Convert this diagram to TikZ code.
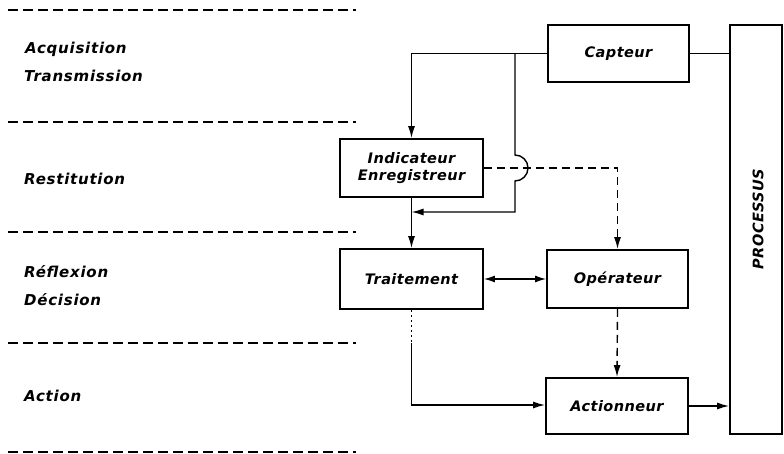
\documentclass[tikz,border=0pt]{standalone}
\usepackage{fontspec}
\setmainfont{DejaVu Sans}
\newfontfamily\boxfont{DejaVu Sans}[LetterSpace=3]
\newfontfamily\labfont{DejaVu Sans}[LetterSpace=5]
\usetikzlibrary{arrows.meta}
\begin{document}
\begin{tikzpicture}[x=1pt,y=-1pt,
  blk/.style={draw,line width=1.8pt,minimum width=#1,inner sep=0pt,font=\boxfont\fontsize{14.5}{16.5}\selectfont\bfseries\itshape,align=center},
  lab/.style={anchor=west,inner sep=0pt,font=\labfont\fontsize{15}{17}\selectfont\bfseries\itshape},
  sep/.style={line width=1.3pt,dash pattern=on 10pt off 5pt},
  con/.style={line width=1.4pt},
  dcon/.style={line width=1.4pt,dash pattern=on 8pt off 5pt},
  arr/.style={-{Latex[length=12pt,width=7pt]}}]
\useasboundingbox (0,0) rectangle (784,454);
\fill[white] (0,0) rectangle (784,454);
% separators
\foreach \yy/\nm in {10/s1,122/s2,232/s3,343/s4,452/s5}{
  \coordinate (\nm a) at (8,\yy); \coordinate (\nm b) at (356,\yy);
  \draw[sep] (\nm a) -- (\nm b);}
% left labels
\node[lab] (l1) at (25,49) {Acquisition};
\node[lab] (l2) at (24,76) {Transmission};
\node[lab] (l3) at (24,179) {Restitution};
\node[lab] (l4) at (24,272) {Réflexion};
\node[lab] (l5) at (24,300) {Décision};
\node[lab] (l6) at (24,396) {Action};
% blocks
\node[blk=141pt,minimum height=57pt] (capt) at (618.5,53.5) {Capteur};
\node[blk=143pt,minimum height=58pt] (ind) at (411.5,168) {Indicateur\\[0pt]Enregistreur};
\node[blk=143pt,minimum height=60pt] (trt) at (411.5,279) {Traitement};
\node[blk=141pt,minimum height=58pt] (op) at (617.5,279) {Opérateur};
\node[blk=142pt,minimum height=56pt] (act) at (617,406) {Actionneur};
\node[blk=52pt,minimum height=409pt] (proc) at (756,229.5) {};
\node[rotate=90,font=\boxfont\fontsize{14.5}{16.5}\selectfont\bfseries\itshape,inner sep=0pt] (proct) at (758,219) {PROCESSUS};
% connectors
\draw[con] (capt.east) -- (capt.east -| proc.west);
\draw[con,arr] (capt.west) -| (ind.north);
\coordinate (j1) at (515,53.5);
\coordinate (h1) at (515,155);
\coordinate (j2) at (515,212);
\draw[con,arr] (j1) -- (h1) arc[start angle=-90,end angle=90,radius=13] -- (j2) -- (j2 -| ind.south);
\draw[dcon,arr] (ind.east) -| (op.north);
\draw[con,arr] (ind.south) -- (trt.north);
\draw[con,{Latex[length=11pt,width=7pt]}-{Latex[length=11pt,width=7pt]}] (trt.east) -- (op.west);
\draw[dcon,arr] (op.south) -- (act.north);
\coordinate (t1) at (411.5,343);
\coordinate (t2) at (411.5,405);
\draw[line width=0.8pt,dash pattern=on 2pt off 3pt] (trt.south) -- (t1);
\draw[con,arr] (t1) -- (t2) -- (t2 -| act.west);
\draw[con,arr] (act.east) -- (act.east -| proc.west);
\end{tikzpicture}
\end{document}
